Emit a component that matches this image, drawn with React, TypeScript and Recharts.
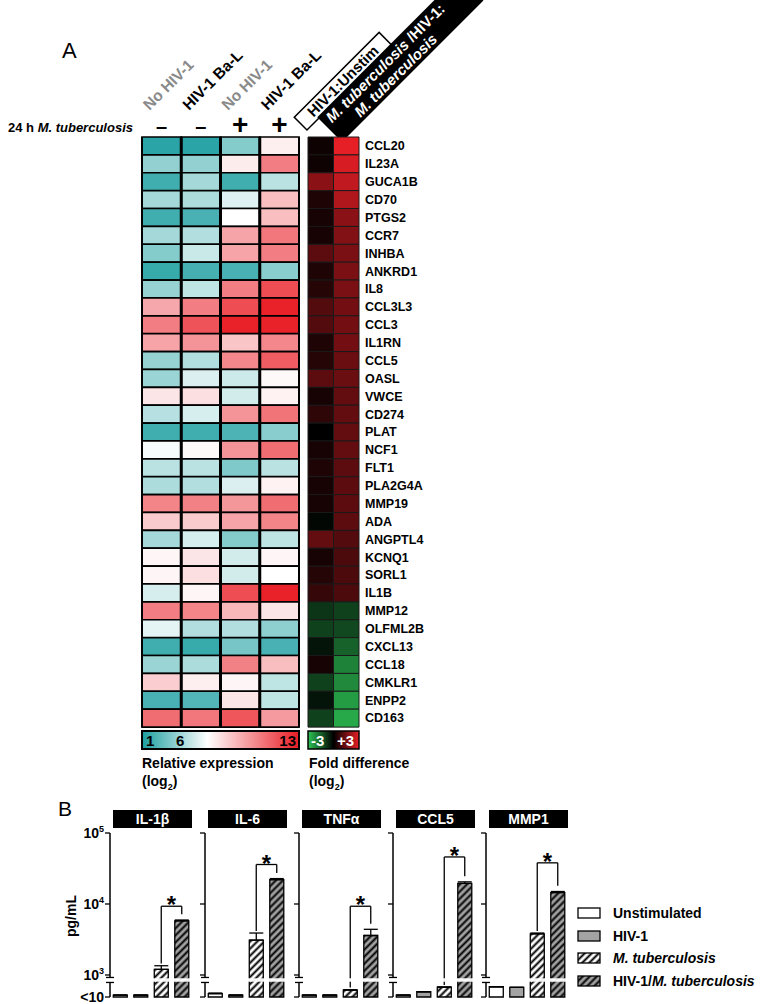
import React from 'react';
import { BarChart, Bar, XAxis, YAxis, Cell, ReferenceLine, ReferenceArea, ErrorBar } from 'recharts';

const FONT = '"Liberation Sans", Arial, Helvetica, sans-serif';

// ---------------- Panel A data ----------------
const genes = ['CCL20','IL23A','GUCA1B','CD70','PTGS2','CCR7','INHBA','ANKRD1','IL8','CCL3L3','CCL3','IL1RN','CCL5','OASL','VWCE','CD274','PLAT','NCF1','FLT1','PLA2G4A','MMP19','ADA','ANGPTL4','KCNQ1','SORL1','IL1B','MMP12','OLFML2B','CXCL13','CCL18','CMKLR1','ENPP2','CD163'];

const exprNoHivUnstim = [1.3,3.6,1.8,4.0,1.8,4.0,3.3,1.6,3.7,8.7,10.0,8.8,3.7,3.8,6.8,4.4,1.8,5.8,4.5,4.2,9.8,7.6,4.0,6.3,6.3,5.1,10.0,5.4,1.8,3.8,7.5,2.0,10.5];
const exprHivUnstim = [1.3,3.6,4.0,4.2,2.0,4.3,4.8,1.9,4.6,10.0,11.3,9.3,4.3,5.2,7.0,5.1,1.8,6.2,4.5,4.3,9.9,7.6,5.1,6.8,7.0,6.3,9.8,4.3,1.6,4.2,6.5,2.2,10.2];
const exprNoHivMtb = [3.3,6.6,1.8,5.3,6.0,8.8,8.8,2.0,10.0,11.5,12.8,7.8,9.7,4.9,5.0,9.3,2.1,9.3,3.2,5.2,9.2,8.8,3.3,5.0,5.0,11.5,8.2,4.3,3.0,9.9,6.3,6.8,11.2];
const exprHivMtb = [6.5,10.0,4.5,8.0,8.0,10.2,10.0,3.4,11.5,12.8,12.8,9.7,11.0,6.2,6.4,10.3,3.4,10.5,4.5,6.4,10.5,9.8,4.6,6.3,6.0,12.8,6.8,3.5,2.0,8.0,4.6,4.6,9.1];
const foldHivVsUnstim = [0.2,0.2,1.8,0.4,0.3,0.3,1.2,0.4,0.5,1.1,1.1,0.4,0.5,1.2,0.3,0.6,0.0,0.3,0.4,0.3,0.3,-0.1,1.3,0.3,0.5,0.7,-0.8,-1.0,-0.3,0.3,-1.0,-0.3,-1.0];
const foldCoVsMtb = [3.0,2.8,2.5,2.3,1.8,1.7,1.6,1.6,1.6,1.5,1.5,1.5,1.4,1.4,1.3,1.3,1.3,1.3,1.2,1.2,1.2,1.2,1.1,1.0,1.0,1.0,-1.0,-1.1,-1.5,-2.0,-2.1,-2.4,-2.6];

const exprColumns = [exprNoHivUnstim, exprHivUnstim, exprNoHivMtb, exprHivMtb];
const foldColumns = [foldHivVsUnstim, foldCoVsMtb];
const columnLabels = ['No HIV-1', 'HIV-1 Ba-L', 'No HIV-1', 'HIV-1 Ba-L'];
const mtbSigns = ['–', '–', '+', '+'];

// ---------------- Panel B data ----------------
const cytokines = ['IL-1β', 'IL-6', 'TNFα', 'CCL5', 'MMP1'];
const conditions = ['Unstimulated', 'HIV-1', 'M. tuberculosis', 'HIV-1/M. tuberculosis'];
const condKeys = ['U', 'H', 'M', 'HM'];
const unstimValues = [15, 20, 15, 15, 85];
const hivValues = [15, 15, 15, 30, 75];
const mtbValues = [1200, 3100, 43, 80, 3800];
const coValues = [5800, 22000, 3600, 19500, 14500];
const unstimErr = [0, 3, 0, 0, 0];
const hivErr = [0, 0, 0, 0, 0];
const mtbErr = [150, 800, 3, 0, 100];
const coErr = [150, 800, 800, 1000, 500];
const bracketTop = [9300, 36000, 9300, 46000, 38000];
const yTickBase = ['<10', '10', '10', '10'];
const yTickExp = ['', '3', '4', '5'];
const yTickValues = [5, 1000, 10000, 100000];

// ---------------- scales ----------------
const TEAL = [28, 158, 160];
const WHITE = [255, 255, 255];
const RED = [232, 28, 36];
const BLACK = [0, 0, 0];
const GREEN = [45, 195, 85];
const FRED = [230, 30, 38];

function mix(a: number[], b: number[], t: number) {
  const c = a.map((v, i) => Math.round(v + (b[i] - v) * Math.max(0, Math.min(1, t))));
  return `rgb(${c[0]},${c[1]},${c[2]})`;
}
function expColor(v: number) {
  return v <= 6 ? mix(TEAL, WHITE, (v - 1) / 5) : mix(WHITE, RED, (v - 6) / 7);
}
function foldColor(v: number) {
  return v < 0 ? mix(BLACK, GREEN, -v / 3) : mix(BLACK, FRED, v / 3);
}

// broken log axis: <10 .. 1000 compressed, then one unit per decade
const T3 = 0.31;
function toAxis(v: number) {
  if (v >= 1000) return T3 + Math.log10(v) - 3;
  if (v <= 10) return 0;
  return (T3 * (Math.log10(v) - 1)) / 2;
}
const BREAK_LO = 0.215;
const BREAK_HI = 0.265;
const BREAK_MID = 0.24;

const heatRows = genes.map((g, i) => ({ gene: g, c0: 1, c1: 1, c2: 1, c3: 1, f0: 1, f1: 1, idx: i }));

function Heatmap() {
  return (
    <div style={{ position: 'absolute', left: 140, top: 135 }}>
      <BarChart width={161} height={594} data={heatRows} layout="vertical" margin={{ top: 2, right: 2, bottom: 2, left: 2 }} barCategoryGap={0}>
        <XAxis type="number" hide domain={[0, 4]} />
        <YAxis type="category" dataKey="gene" hide />
        {['c0', 'c1', 'c2', 'c3'].map((k, ci) => (
          <Bar key={k} dataKey={k} stackId="s" isAnimationActive={false}>
            {heatRows.map((r, ri) => (
              <Cell key={ri} fill={expColor(exprColumns[ci][ri])} stroke="#000" strokeWidth={1.7} />
            ))}
          </Bar>
        ))}
        {[1, 2, 3].map((x) => (
          <ReferenceLine key={x} x={x} stroke="#000" strokeWidth={3} />
        ))}
        <ReferenceLine x={0} stroke="#000" strokeWidth={2} />
        <ReferenceLine x={4} stroke="#000" strokeWidth={2} />
      </BarChart>
    </div>
  );
}

function FoldMap() {
  return (
    <div style={{ position: 'absolute', left: 306, top: 135 }}>
      <BarChart width={130} height={594} data={heatRows} layout="vertical" margin={{ top: 2, right: 2, bottom: 2, left: 2 }} barCategoryGap={0}>
        <XAxis type="number" hide domain={[0, 2]} />
        <YAxis
          type="category"
          dataKey="gene"
          orientation="right"
          width={75}
          tickLine={false}
          axisLine={false}
          tickSize={4}
          tickMargin={2}
          interval={0}
          tick={{ fill: '#000', fontSize: 12.5, fontWeight: 'bold', fontFamily: FONT }}
        />
        {['f0', 'f1'].map((k, ci) => (
          <Bar key={k} dataKey={k} stackId="s" isAnimationActive={false}>
            {heatRows.map((r, ri) => (
              <Cell key={ri} fill={foldColor(foldColumns[ci][ri])} stroke="#1a1a1a" strokeWidth={1} />
            ))}
          </Bar>
        ))}
      </BarChart>
    </div>
  );
}

const YTick = (props: any) => {
  const { x, y, payload, showLabels } = props;
  const ax = x + 8;
  const v = payload.value;
  if (Math.abs(v - BREAK_MID) < 1e-6) {
    return (
      <g>
        <rect x={ax - 3} y={y - 2.5} width={6} height={5} fill="#fff" />
        <line x1={ax - 4} x2={ax + 4} y1={y - 2.5} y2={y - 2.5} stroke="#000" strokeWidth={1.3} />
        <line x1={ax - 4} x2={ax + 4} y1={y + 2.5} y2={y + 2.5} stroke="#000" strokeWidth={1.3} />
      </g>
    );
  }
  const i = yTickValues.findIndex((tv) => Math.abs(toAxis(tv) - v) < 1e-6);
  return (
    <g>
      <line x1={ax - 5} x2={ax} y1={y} y2={y} stroke="#000" strokeWidth={1.3} />
      {showLabels && i >= 0 && (
        <text x={ax - 6} y={y + 5} textAnchor="end" fontFamily={FONT} fontWeight="bold" fontSize={14} fill="#000">
          {yTickBase[i]}
          {yTickExp[i] && (
            <tspan dy={-6} fontSize={9}>
              {yTickExp[i]}
            </tspan>
          )}
        </text>
      )}
    </g>
  );
};

const axisXs = [110, 205, 299, 393, 486];
const fills = ['#ffffff', '#a3a3a3', 'url(#hatchW)', 'url(#hatchG)'];

function StarLabel(props: any) {
  const vb = props.viewBox || {};
  return (
    <text x={vb.x + vb.width / 2} y={vb.y + 7} textAnchor="middle" fontFamily={FONT} fontWeight="bold" fontSize={24} fill="#000">
      *
    </text>
  );
}

function CytokinePanel({ k }: { k: number }) {
  const vals = [unstimValues[k], hivValues[k], mtbValues[k], coValues[k]];
  const errs = [unstimErr[k], hivErr[k], mtbErr[k], coErr[k]];
  const rows = condKeys.map((c, i) => ({
    cat: c,
    t: toAxis(vals[i]),
    err: [0, toAxis(vals[i] + errs[i]) - toAxis(vals[i])],
  }));
  const leftStart = toAxis(vals[2] + errs[2]) + 0.03;
  const rightEnd = toAxis(vals[3] + errs[3]) + 0.08;
  const top = toAxis(bracketTop[k]);
  const YW = 50;
  return (
    <div style={{ position: 'absolute', left: axisXs[k] - YW, top: 821 }}>
      <BarChart width={YW + 86} height={186} data={rows} margin={{ top: 12, right: 4, bottom: 10, left: 0 }} barCategoryGap="16%">
        <XAxis dataKey="cat" tick={false} tickLine={false} height={0} axisLine={{ stroke: '#000', strokeWidth: 1.5 }} />
        <YAxis
          width={YW}
          type="number"
          domain={[0, T3 + 2]}
          ticks={[0, BREAK_MID, T3, T3 + 1, T3 + 2]}
          interval={0}
          tickSize={5}
          tickMargin={3}
          tickLine={false}
          axisLine={{ stroke: '#000', strokeWidth: 1.5 }}
          tick={<YTick showLabels={k === 0} />}
        />
        <Bar dataKey="t" isAnimationActive={false} stroke="#000" strokeWidth={1.3}>
          {rows.map((r, i) => (
            <Cell key={i} fill={fills[i]} />
          ))}
          <ErrorBar dataKey="err" width={7} stroke="#000" strokeWidth={1.3} />
        </Bar>
        <ReferenceArea y1={BREAK_LO} y2={BREAK_HI} fill="#fff" fillOpacity={0.95} stroke="none" zIndex={1000} />
        <ReferenceLine segment={[{ x: 'M', y: leftStart }, { x: 'M', y: top }]} stroke="#000" strokeWidth={1.3} />
        <ReferenceLine segment={[{ x: 'M', y: top }, { x: 'HM', y: top }]} stroke="#000" strokeWidth={1.3} label={<StarLabel />} />
        <ReferenceLine segment={[{ x: 'HM', y: top }, { x: 'HM', y: rightEnd }]} stroke="#000" strokeWidth={1.3} />
      </BarChart>
    </div>
  );
}

function Overlay() {
  const colCenters = [161.6, 200.9, 240.1, 279.4];
  const legendY = [913, 936, 958, 981];
  return (
    <svg width={762} height={1004} style={{ position: 'absolute', left: 0, top: 0 }} fontFamily={FONT}>
      <defs>
        <pattern id="hatchW" patternUnits="userSpaceOnUse" width="5" height="5" patternTransform="rotate(45)">
          <rect width="5" height="5" fill="#fff" />
          <line x1="2.5" y1="0" x2="2.5" y2="5" stroke="#000" strokeWidth="2" />
        </pattern>
        <pattern id="hatchG" patternUnits="userSpaceOnUse" width="5" height="5" patternTransform="rotate(45)">
          <rect width="5" height="5" fill="#a3a3a3" />
          <line x1="2.5" y1="0" x2="2.5" y2="5" stroke="#000" strokeWidth="2" />
        </pattern>
        <linearGradient id="gExpr" x1="0" x2="1" y1="0" y2="0">
          <stop offset="0%" stopColor={expColor(1)} />
          <stop offset={`${(5 / 12) * 100}%`} stopColor="#fff" />
          <stop offset="100%" stopColor={expColor(13)} />
        </linearGradient>
        <linearGradient id="gFold" x1="0" x2="1" y1="0" y2="0">
          <stop offset="0%" stopColor={foldColor(-3)} />
          <stop offset="50%" stopColor="#000" />
          <stop offset="100%" stopColor={foldColor(3)} />
        </linearGradient>
      </defs>

      <text x={62} y={58} fontSize={22} fill="#000">A</text>
      <text x={58} y={816} fontSize={21} fill="#000">B</text>

      {columnLabels.map((l, i) => (
        <text key={i} transform={`translate(${colCenters[i] - 12},111) rotate(-45)`} fontSize={15.5} fontWeight="bold" fill={i % 2 === 0 ? '#8a8a8a' : '#000'}>
          {l}
        </text>
      ))}
      <text x={8} y={132} fontSize={13} fontWeight="bold" fill="#000">
        24 h <tspan fontStyle="italic">M. tuberculosis</tspan>
      </text>
      {mtbSigns.map((s, i) => (
        <text key={i} x={colCenters[i]} y={s === '+' ? 134 : 133} textAnchor="middle" fontSize={s === '+' ? 28 : 20} fontWeight="bold" fill="#000">
          {s}
        </text>
      ))}

      <g transform="translate(307,130) rotate(-45)">
        <rect x={0} y={-18} width={120} height={18} fill="#fff" stroke="#000" strokeWidth={1.5} />
        <text x={60} y={-4} textAnchor="middle" fontSize={15} fontWeight="bold" fill="#000">HIV-1:Unstim</text>
      </g>
      <g transform="translate(342,142) rotate(-45)">
        <rect x={0} y={-35} width={200} height={35} fill="#000" />
        <text x={6} y={-20} fontSize={15} fontWeight="bold" fill="#fff">
          <tspan fontStyle="italic">M. tuberculosis</tspan> /HIV-1:
        </text>
        <text x={30} y={-4} fontSize={15} fontWeight="bold" fontStyle="italic" fill="#fff">M. tuberculosis</text>
      </g>

      <rect x={142} y={731} width={157} height={18} fill="url(#gExpr)" stroke="#000" strokeWidth={2} />
      <text x={146} y={746} fontSize={15} fontWeight="bold" fill="#000">1</text>
      <text x={176} y={746} fontSize={15} fontWeight="bold" fill="#000">6</text>
      <text x={296} y={746} textAnchor="end" fontSize={15} fontWeight="bold" fill="#000">13</text>
      <rect x={308} y={731} width={51} height={18} fill="url(#gFold)" stroke="#000" strokeWidth={1.5} />
      <text x={311} y={746} fontSize={15} fontWeight="bold" fill="#fff">-3</text>
      <text x={337} y={746} fontSize={15} fontWeight="bold" fill="#fff">+3</text>

      <text x={142} y={768} fontSize={14} fontWeight="bold" fill="#000">Relative expression</text>
      <text x={142} y={786} fontSize={14} fontWeight="bold" fill="#000">(log<tspan fontSize={9} dy={4}>2</tspan><tspan dy={-4}>)</tspan></text>
      <text x={309} y={768} fontSize={14} fontWeight="bold" fill="#000">Fold difference</text>
      <text x={309} y={786} fontSize={14} fontWeight="bold" fill="#000">(log<tspan fontSize={9} dy={4}>2</tspan><tspan dy={-4}>)</tspan></text>

      {cytokines.map((c, i) => (
        <g key={c}>
          <rect x={axisXs[i] + 3} y={810} width={79} height={18} fill="#000" />
          <text x={axisXs[i] + 42.5} y={824} textAnchor="middle" fontSize={14} fontWeight="bold" fill="#fff">{c}</text>
        </g>
      ))}
      <text transform="translate(76,916) rotate(-90)" textAnchor="middle" fontSize={14} fontWeight="bold" fill="#000">pg/mL</text>

      {conditions.map((c, i) => (
        <g key={c}>
          <rect x={578} y={legendY[i] - 5} width={22} height={10} fill={fills[i]} stroke="#000" strokeWidth={1.3} />
          <text x={613} y={legendY[i] + 5} fontSize={14} fontWeight="bold" fill="#000">
            {i === 2 ? <tspan fontStyle="italic">M. tuberculosis</tspan> : i === 3 ? <>HIV-1/<tspan fontStyle="italic">M. tuberculosis</tspan></> : c}
          </text>
        </g>
      ))}
    </svg>
  );
}

export default function App() {
  return (
    <div style={{ position: 'absolute', left: 0, top: 0, width: 762, height: 1004, background: '#fff', fontFamily: FONT, overflow: 'hidden' }}>
      <Overlay />
      <Heatmap />
      <FoldMap />
      {cytokines.map((c, k) => (
        <CytokinePanel key={c} k={k} />
      ))}
    </div>
  );
}
